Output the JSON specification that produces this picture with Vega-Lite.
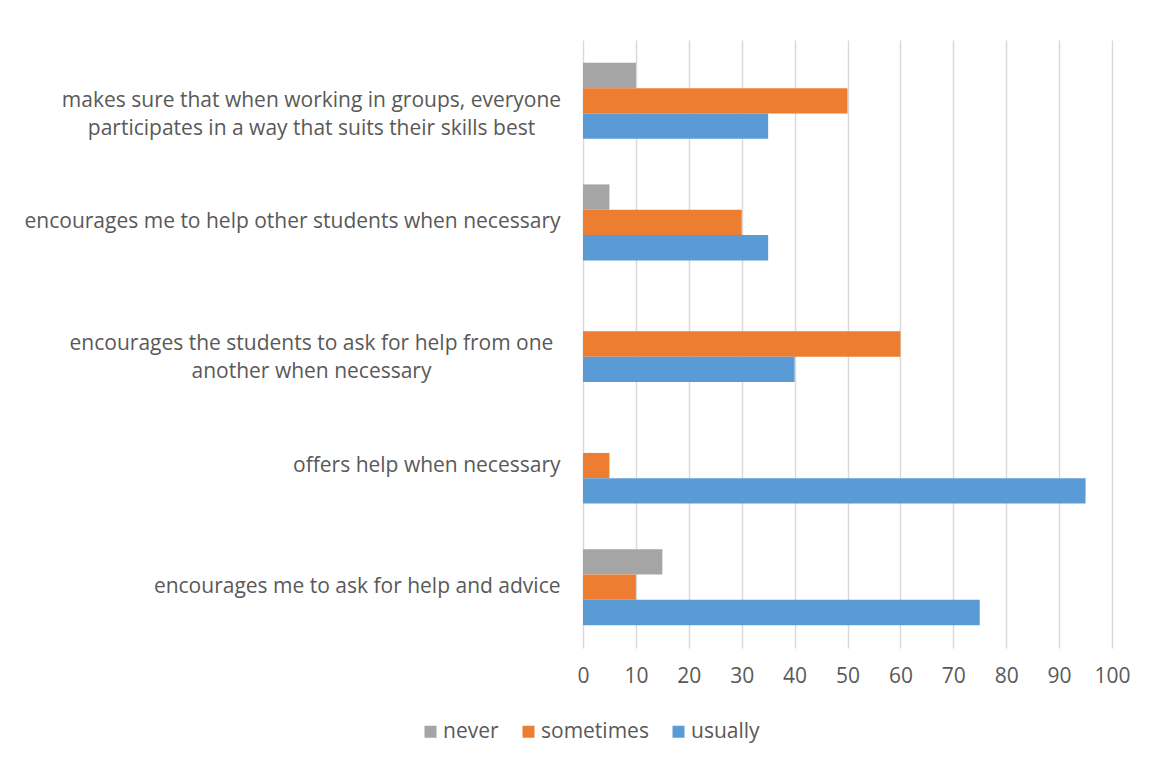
{
  "$schema": "https://vega.github.io/schema/vega-lite/v6.json",
  "autosize": "none",
  "width": 529,
  "height": 608,
  "padding": {"left": 583, "top": 40, "right": 37, "bottom": 115},
  "background": "white",
  "data": {
    "values": [
      {"item": "makes sure that when working in groups, everyone|participates in a way that suits their skills best", "response": "never", "percent": 10},
      {"item": "makes sure that when working in groups, everyone|participates in a way that suits their skills best", "response": "sometimes", "percent": 50},
      {"item": "makes sure that when working in groups, everyone|participates in a way that suits their skills best", "response": "usually", "percent": 35},
      {"item": "encourages me to help other students when necessary", "response": "never", "percent": 5},
      {"item": "encourages me to help other students when necessary", "response": "sometimes", "percent": 30},
      {"item": "encourages me to help other students when necessary", "response": "usually", "percent": 35},
      {"item": "encourages the students to ask for help from one|another when necessary", "response": "never", "percent": 0},
      {"item": "encourages the students to ask for help from one|another when necessary", "response": "sometimes", "percent": 60},
      {"item": "encourages the students to ask for help from one|another when necessary", "response": "usually", "percent": 40},
      {"item": "offers help when necessary", "response": "never", "percent": 0},
      {"item": "offers help when necessary", "response": "sometimes", "percent": 5},
      {"item": "offers help when necessary", "response": "usually", "percent": 95},
      {"item": "encourages me to ask for help and advice", "response": "never", "percent": 15},
      {"item": "encourages me to ask for help and advice", "response": "sometimes", "percent": 10},
      {"item": "encourages me to ask for help and advice", "response": "usually", "percent": 75}
    ]
  },
  "mark": {"type": "bar"},
  "encoding": {
    "y": {
      "field": "item",
      "type": "nominal",
      "sort": null,
      "scale": {"paddingInner": 0.375, "paddingOuter": 0.1875},
      "axis": {
        "title": null,
        "ticks": false,
        "domain": false,
        "labelExpr": "split(datum.label, '|')",
        "labelAlign": {"condition": {"test": "indexof(datum.label, '|') >= 0", "value": "center"}, "value": "right"},
        "labelPadding": {"condition": {"test": "indexof(datum.label, '|') >= 0", "value": 272}, "value": 23},
        "labelLineHeight": 28,
        "labelLimit": 700
      }
    },
    "yOffset": {"field": "response", "type": "nominal", "sort": ["never", "sometimes", "usually"]},
    "x": {
      "field": "percent",
      "type": "quantitative",
      "scale": {"domain": [0, 100], "nice": false},
      "axis": {
        "title": null,
        "values": [0, 10, 20, 30, 40, 50, 60, 70, 80, 90, 100],
        "ticks": false,
        "domain": false,
        "grid": true,
        "labelPadding": 17,
        "labelFlush": false
      }
    },
    "color": {
      "field": "response",
      "type": "nominal",
      "sort": ["never", "sometimes", "usually"],
      "scale": {"domain": ["never", "sometimes", "usually"], "range": ["#A5A5A5", "#ED7D31", "#5B9BD5"]},
      "legend": {
        "title": null,
        "orient": "none",
        "direction": "horizontal",
        "legendX": -163,
        "legendY": 681,
        "symbolType": "square",
        "symbolSize": 144,
        "symbolStrokeWidth": 0,
        "symbolOpacity": 1,
        "labelOffset": 2,
        "columnPadding": 19
      }
    }
  },
  "config": {
    "view": {"stroke": null},
    "font": "Open Sans",
    "axis": {
      "labelFont": "Open Sans",
      "labelFontSize": 21,
      "labelColor": "#595959",
      "gridColor": "#D9D9D9",
      "gridWidth": 1.5
    },
    "legend": {
      "labelFont": "Open Sans",
      "labelFontSize": 21,
      "labelColor": "#595959"
    }
  }
}
